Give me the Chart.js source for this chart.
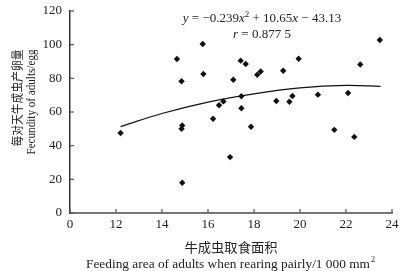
<!DOCTYPE html>
<html>
<head>
<meta charset="utf-8">
<script src="https://cdn.jsdelivr.net/npm/chart.js@4/dist/chart.umd.min.js"></script>
<style>
  html, body { margin: 0; padding: 0; background: #fff; }
  #wrap { width: 401px; height: 271px; }
</style>
</head>
<body>
<div id="wrap"><canvas id="chart" width="401" height="271"></canvas></div>
<script>
// feeding area (x, 1 000 mm2) and fecundity (eggs)
const feedArea = [12.2, 14.65, 14.85, 14.88, 14.85, 14.88, 15.77, 15.8, 16.22, 16.48, 16.67,
  16.96, 17.1, 17.42, 17.45, 17.45, 17.64, 17.87, 18.14, 18.29, 18.97, 19.27, 19.54,
  19.67, 19.94, 20.78, 21.49, 22.09, 22.36, 22.62, 23.47]
const fecundity = [47.5, 91.5, 78.3, 52, 50, 18, 100.4, 82.6, 56, 64, 66.3,
  33.2, 79.2, 90.5, 69.4, 62.2, 88.5, 51.2, 82.1, 84.1, 66.5, 84.5, 66.1,
  69.5, 91.6, 70.3, 49.4, 71.3, 45.2, 88.2, 102.8]

// fitted curve
const fitX = [12.2, 14, 16, 18, 20, 22, 23.5]
const fitY = [51.3, 59.1, 65.9, 70.8, 74.3, 75.8, 75.2]

const xTicks = [10, 12, 14, 16, 18, 20, 22, 24]
const yTicks = [0, 20, 40, 60, 80, 100, 120]

const serif = "'Liberation Serif', 'DejaVu Serif', serif"
const cjk = "'Noto Sans CJK SC', sans-serif"

// draw text squeezed / stretched to a given width
function drawFit(ctx, text, cx, cy, width, font) {
  ctx.save()
  ctx.font = font
  const w = ctx.measureText(text).width
  ctx.translate(cx, cy)
  ctx.scale(width / w, 1)
  ctx.textAlign = "center"
  ctx.textBaseline = "middle"
  ctx.fillText(text, 0, 0)
  ctx.restore()
}

const decor = {
  id: "decor",
  afterDraw(chart) {
    const ctx = chart.ctx
    const xs = chart.scales.x
    const ys = chart.scales.y
    const area = chart.chartArea
    ctx.save()
    ctx.strokeStyle = "#555"
    ctx.lineWidth = 1.2
    // inward ticks
    xTicks.forEach((v) => {
      const px = xs.getPixelForValue(v)
      ctx.beginPath()
      ctx.moveTo(px, area.bottom)
      ctx.lineTo(px, area.bottom - 4)
      ctx.stroke()
    })
    yTicks.forEach((v) => {
      const py = ys.getPixelForValue(v)
      ctx.beginPath()
      ctx.moveTo(area.left, py)
      ctx.lineTo(area.left + 4, py)
      ctx.stroke()
    })
    ctx.fillStyle = "#222"

    // equation
    const parts = [
      ["y", "italic "], [" = \u22120.239", ""], ["x", "italic "], ["2", "sup"],
      [" + 10.65", ""], ["x", "italic "], [" \u2212 43.13", ""]
    ]
    let total = 0
    parts.forEach((p) => {
      ctx.font = p[1] === "sup" ? "9px " + serif : p[1] + "13px " + serif
      p.push(ctx.measureText(p[0]).width)
      total += p[2]
    })
    let cx = 262 - total / 2
    ctx.textBaseline = "alphabetic"
    ctx.textAlign = "left"
    parts.forEach((p) => {
      ctx.font = p[1] === "sup" ? "9px " + serif : p[1] + "13px " + serif
      ctx.fillText(p[0], cx, p[1] === "sup" ? 17 : 22)
      cx += p[2]
    })
    ctx.font = "italic 13px " + serif
    const rw = ctx.measureText("r").width
    ctx.font = "13px " + serif
    const restW = ctx.measureText(" = 0.877 5").width
    let rx = 262 - (rw + restW) / 2
    ctx.font = "italic 13px " + serif
    ctx.fillText("r", rx, 38)
    ctx.font = "13px " + serif
    ctx.fillText(" = 0.877 5", rx + rw, 38)

    // axis titles
    drawFit(ctx, "牛成虫取食面积", 231, 247, 93, "13px " + cjk)
    drawFit(ctx, "Feeding area of adults when rearing pairly/1 000 mm", 228, 265, 284, "13px " + serif)
    ctx.font = "8px " + serif
    ctx.textAlign = "left"
    ctx.fillText("2", 371, 262)

    ctx.save()
    ctx.translate(17, 98)
    ctx.rotate(-Math.PI / 2)
    drawFit(ctx, "每对天牛成虫产卵量", 0, 0, 97, "12px " + cjk)
    ctx.restore()
    ctx.save()
    ctx.translate(32, 102)
    ctx.rotate(-Math.PI / 2)
    drawFit(ctx, "Fecundity of adults/egg", 0, 0, 105, "13px " + serif)
    ctx.restore()
    ctx.restore()
  }
}

const ctx = document.getElementById("chart").getContext("2d")

new Chart(ctx, {
  type: "scatter",
  data: {
    datasets: [
      {
        data: feedArea.map((x, i) => ({ x: x, y: fecundity[i] })),
        pointStyle: "rectRot",
        pointRadius: 3.2,
        backgroundColor: "#111",
        borderColor: "#111",
        borderWidth: 0,
      },
      {
        type: "line",
        data: fitX.map((x, i) => ({ x: x, y: fitY[i] })),
        borderColor: "#111",
        borderWidth: 1.2,
        pointRadius: 0,
        tension: 0.4,
        fill: false,
      },
    ],
  },
  options: {
    responsive: false,
    animation: false,
    events: [],
    layout: { padding: { top: 11, right: 9, left: 0, bottom: 0 } },
    plugins: { legend: { display: false }, tooltip: { enabled: false } },
    scales: {
      x: {
        type: "linear",
        min: 10,
        max: 24,
        afterBuildTicks: (s) => { s.ticks = xTicks.map((v) => ({ value: v })) },
        afterFit: (s) => {
          s.height = 58
          s.paddingLeft = 0
          s.paddingRight = 0
        },
        grid: { display: false, drawTicks: false },
        border: { display: true, color: "#777", width: 2 },
        ticks: {
          padding: 4,
          color: "#222",
          font: { family: serif, size: 13 },
          maxRotation: 0,
          callback: (v) => (v === 10 ? "0" : String(v)),
        },
      },
      y: {
        min: 0,
        max: 120,
        afterBuildTicks: (s) => { s.ticks = yTicks.map((v) => ({ value: v })) },
        afterFit: (s) => {
          s.width = 70
          s.paddingTop = 0
          s.paddingBottom = 0
        },
        grid: { display: false, drawTicks: false },
        border: { display: true, color: "#333", width: 1.5 },
        ticks: {
          padding: 8,
          color: "#222",
          font: { family: serif, size: 13 },
        },
      },
    },
  },
  plugins: [decor],
})
</script>
</body>
</html>
